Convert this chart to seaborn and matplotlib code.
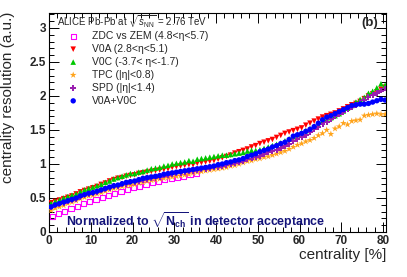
import numpy as np
import matplotlib
matplotlib.use('Agg')
import matplotlib.pyplot as plt
from matplotlib.ticker import MultipleLocator, FormatStrFormatter
import seaborn as sns

sns.set_style('ticks')
plt.rcParams['font.family'] = ['Liberation Sans', 'DejaVu Sans']
plt.rcParams['mathtext.fontset'] = 'custom'
plt.rcParams['mathtext.rm'] = 'Liberation Sans'
plt.rcParams['mathtext.it'] = 'Liberation Sans:italic'
plt.rcParams['mathtext.bf'] = 'Liberation Sans:bold'

# ---- data ----
cent = np.arange(0.5, 81.0, 1.0)          # centrality bin centres, 81 bins
cent_zdc = np.arange(0.75, 36.0, 1.5)     # ZDC vs ZEM bins, 24 bins

zdc = [0.23, 0.27, 0.30, 0.34, 0.38, 0.42, 0.45, 0.48, 0.51, 0.54, 0.57, 0.60,
       0.62, 0.65, 0.67, 0.70, 0.73, 0.75, 0.77, 0.79, 0.80, 0.82, 0.84, 0.86]

v0a = [0.43, 0.45, 0.47, 0.49, 0.51, 0.53, 0.56, 0.59, 0.61, 0.63,
       0.65, 0.67, 0.70, 0.72, 0.75, 0.77, 0.79, 0.80, 0.82, 0.83,
       0.84, 0.86, 0.87, 0.88, 0.89, 0.90, 0.91, 0.92, 0.93, 0.95,
       0.96, 0.97, 0.98, 0.99, 0.99, 1.01, 1.02, 1.03, 1.04, 1.05,
       1.07, 1.09, 1.11, 1.13, 1.16, 1.18, 1.20, 1.22, 1.25, 1.27,
       1.30, 1.32, 1.34, 1.36, 1.39, 1.42, 1.45, 1.47, 1.49, 1.51,
       1.53, 1.57, 1.60, 1.63, 1.66, 1.69, 1.71, 1.73, 1.75, 1.78,
       1.81, 1.84, 1.87, 1.89, 1.92, 1.96, 2.00, 2.03, 2.06, 2.10, 2.13]

v0c = [0.42, 0.45, 0.47, 0.50, 0.52, 0.54, 0.56, 0.59, 0.62, 0.64,
       0.66, 0.68, 0.70, 0.73, 0.75, 0.78, 0.80, 0.82, 0.84, 0.86,
       0.86, 0.88, 0.89, 0.91, 0.93, 0.94, 0.95, 0.97, 0.98, 1.00,
       1.01, 1.02, 1.03, 1.05, 1.04, 1.07, 1.08, 1.09, 1.10, 1.11,
       1.12, 1.13, 1.13, 1.14, 1.15, 1.16, 1.17, 1.19, 1.20, 1.20,
       1.21, 1.23, 1.25, 1.27, 1.29, 1.31, 1.34, 1.37, 1.40, 1.43,
       1.46, 1.49, 1.52, 1.55, 1.58, 1.62, 1.65, 1.68, 1.71, 1.74,
       1.78, 1.82, 1.86, 1.91, 1.95, 1.98, 2.04, 2.07, 2.12, 2.18, 2.16]

tpc = [0.32, 0.35, 0.37, 0.39, 0.42, 0.44, 0.46, 0.49, 0.51, 0.53,
       0.54, 0.56, 0.58, 0.60, 0.62, 0.64, 0.65, 0.67, 0.68, 0.69,
       0.70, 0.72, 0.73, 0.75, 0.76, 0.77, 0.78, 0.79, 0.80, 0.81,
       0.82, 0.83, 0.84, 0.85, 0.87, 0.88, 0.89, 0.90, 0.91, 0.92,
       0.93, 0.94, 0.95, 0.97, 0.98, 1.00, 1.02, 1.04, 1.05, 1.07,
       1.08, 1.10, 1.11, 1.13, 1.15, 1.17, 1.19, 1.22, 1.25, 1.28,
       1.30, 1.33, 1.35, 1.38, 1.42, 1.45, 1.50, 1.44, 1.52, 1.55,
       1.60, 1.58, 1.63, 1.64, 1.65, 1.71, 1.72, 1.73, 1.74, 1.73, 1.73]

spd = [0.36, 0.39, 0.41, 0.43, 0.45, 0.47, 0.49, 0.52, 0.54, 0.56,
       0.57, 0.59, 0.61, 0.63, 0.65, 0.67, 0.68, 0.70, 0.71, 0.73,
       0.74, 0.75, 0.77, 0.78, 0.79, 0.80, 0.81, 0.83, 0.84, 0.85,
       0.86, 0.87, 0.88, 0.89, 0.90, 0.91, 0.92, 0.93, 0.94, 0.95,
       0.96, 0.97, 0.99, 1.00, 1.01, 1.03, 1.05, 1.07, 1.08, 1.10,
       1.12, 1.14, 1.17, 1.19, 1.21, 1.24, 1.27, 1.30, 1.34, 1.37,
       1.40, 1.43, 1.47, 1.51, 1.55, 1.59, 1.62, 1.66, 1.70, 1.74,
       1.77, 1.81, 1.84, 1.87, 1.90, 1.94, 1.98, 2.02, 2.05, 2.08, 2.11]

v0m = [0.37, 0.40, 0.42, 0.44, 0.46, 0.48, 0.50, 0.53, 0.55, 0.57,
       0.58, 0.60, 0.62, 0.64, 0.66, 0.68, 0.69, 0.71, 0.73, 0.74,
       0.75, 0.77, 0.79, 0.80, 0.81, 0.82, 0.83, 0.85, 0.86, 0.87,
       0.88, 0.89, 0.90, 0.91, 0.92, 0.93, 0.94, 0.95, 0.96, 0.97,
       0.99, 1.00, 1.02, 1.03, 1.05, 1.06, 1.08, 1.11, 1.13, 1.15,
       1.18, 1.20, 1.22, 1.25, 1.27, 1.30, 1.32, 1.36, 1.41, 1.43,
       1.45, 1.48, 1.51, 1.55, 1.60, 1.65, 1.69, 1.71, 1.74, 1.77,
       1.80, 1.83, 1.86, 1.87, 1.88, 1.88, 1.89, 1.91, 1.93, 1.95, 1.94]

labels = ['ZDC vs ZEM (4.8<η<5.7)', 'V0A (2.8<η<5.1)', 'V0C (-3.7< η<-1.7)',
          'TPC (|η|<0.8)', 'SPD (|η|<1.4)', 'V0A+V0C']

# ---- figure ----
fig = plt.figure(figsize=(4.07, 2.77), dpi=100)
ax = fig.add_axes([49/407, 1-232/277, 337/407, 219/277])

sns.scatterplot(x=cent_zdc, y=zdc, marker='s', s=14, color='#ff00ff',
                facecolors='none', edgecolor='#ff00ff', linewidth=0.8,
                label=labels[0], ax=ax, zorder=3)
sns.scatterplot(x=cent, y=v0a, marker='v', s=16, color='#ff0000',
                edgecolor='none', linewidth=0, label=labels[1], ax=ax, zorder=3)
sns.scatterplot(x=cent, y=v0c, marker='^', s=16, color='#00c800',
                edgecolor='none', linewidth=0, label=labels[2], ax=ax, zorder=3)
sns.scatterplot(x=cent, y=tpc, marker='*', s=26, color='#ffa31a',
                edgecolor='none', linewidth=0, label=labels[3], ax=ax, zorder=3)
sns.scatterplot(x=cent, y=spd, marker='P', s=18, color='#9a1fb0',
                edgecolor='none', linewidth=0, label=labels[4], ax=ax, zorder=3)
sns.scatterplot(x=cent, y=v0m, marker='o', s=15, color='#0000ff',
                edgecolor='none', linewidth=0, label=labels[5], ax=ax, zorder=3)

ax.set_xlim(0, 80.7)
ax.set_ylim(0, 3.22)

# ROOT-like axes: ticks inside on all four sides
ax.xaxis.set_major_locator(MultipleLocator(10))
ax.xaxis.set_minor_locator(MultipleLocator(2))
ax.yaxis.set_major_locator(MultipleLocator(0.5))
ax.yaxis.set_minor_locator(MultipleLocator(0.1))
ax.yaxis.set_major_formatter(FormatStrFormatter('%g'))
ax.tick_params(which='both', direction='in', top=True, right=True,
               width=0.7, color='black')
ax.tick_params(which='major', length=7, labelsize=8.5, pad=2)
ax.tick_params(which='minor', length=3.5)
for lab in ax.get_xticklabels() + ax.get_yticklabels():
    lab.set_fontweight('bold')
for sp in ax.spines.values():
    sp.set_linewidth(0.8)
    sp.set_color('black')

ax.set_xlabel('centrality [%]', fontsize=11, loc='right', labelpad=1)
ax.set_ylabel('centrality resolution (a.u.)', fontsize=11, loc='top')
ax.yaxis.set_label_coords(-0.101, 1.005)

leg = ax.legend(loc='upper left', bbox_to_anchor=(68/407, 1-31/277),
                bbox_transform=fig.transFigure, frameon=False, fontsize=7.5,
                handlelength=1.0, handletextpad=1.3, labelspacing=0.28,
                borderpad=0, borderaxespad=0)

fig.text(57/407, 1-21.5/277, r'ALICE Pb-Pb at $\sqrt{s_{\rm NN}}$ = 2.76 TeV',
         fontsize=7, va='center', ha='left')
fig.text(370/407, 1-23/277, '(b)', fontsize=9.5, fontweight='bold',
         va='center', ha='center')
fig.text(66/407, 1-221/277,
         r'Normalized to $\sqrt{\mathbf{N}_{\mathbf{ch}}}$ in detector acceptance',
         fontsize=8.9, fontweight='bold', color='#14147a', va='center', ha='left')

fig.savefig('out.png', dpi=100)
